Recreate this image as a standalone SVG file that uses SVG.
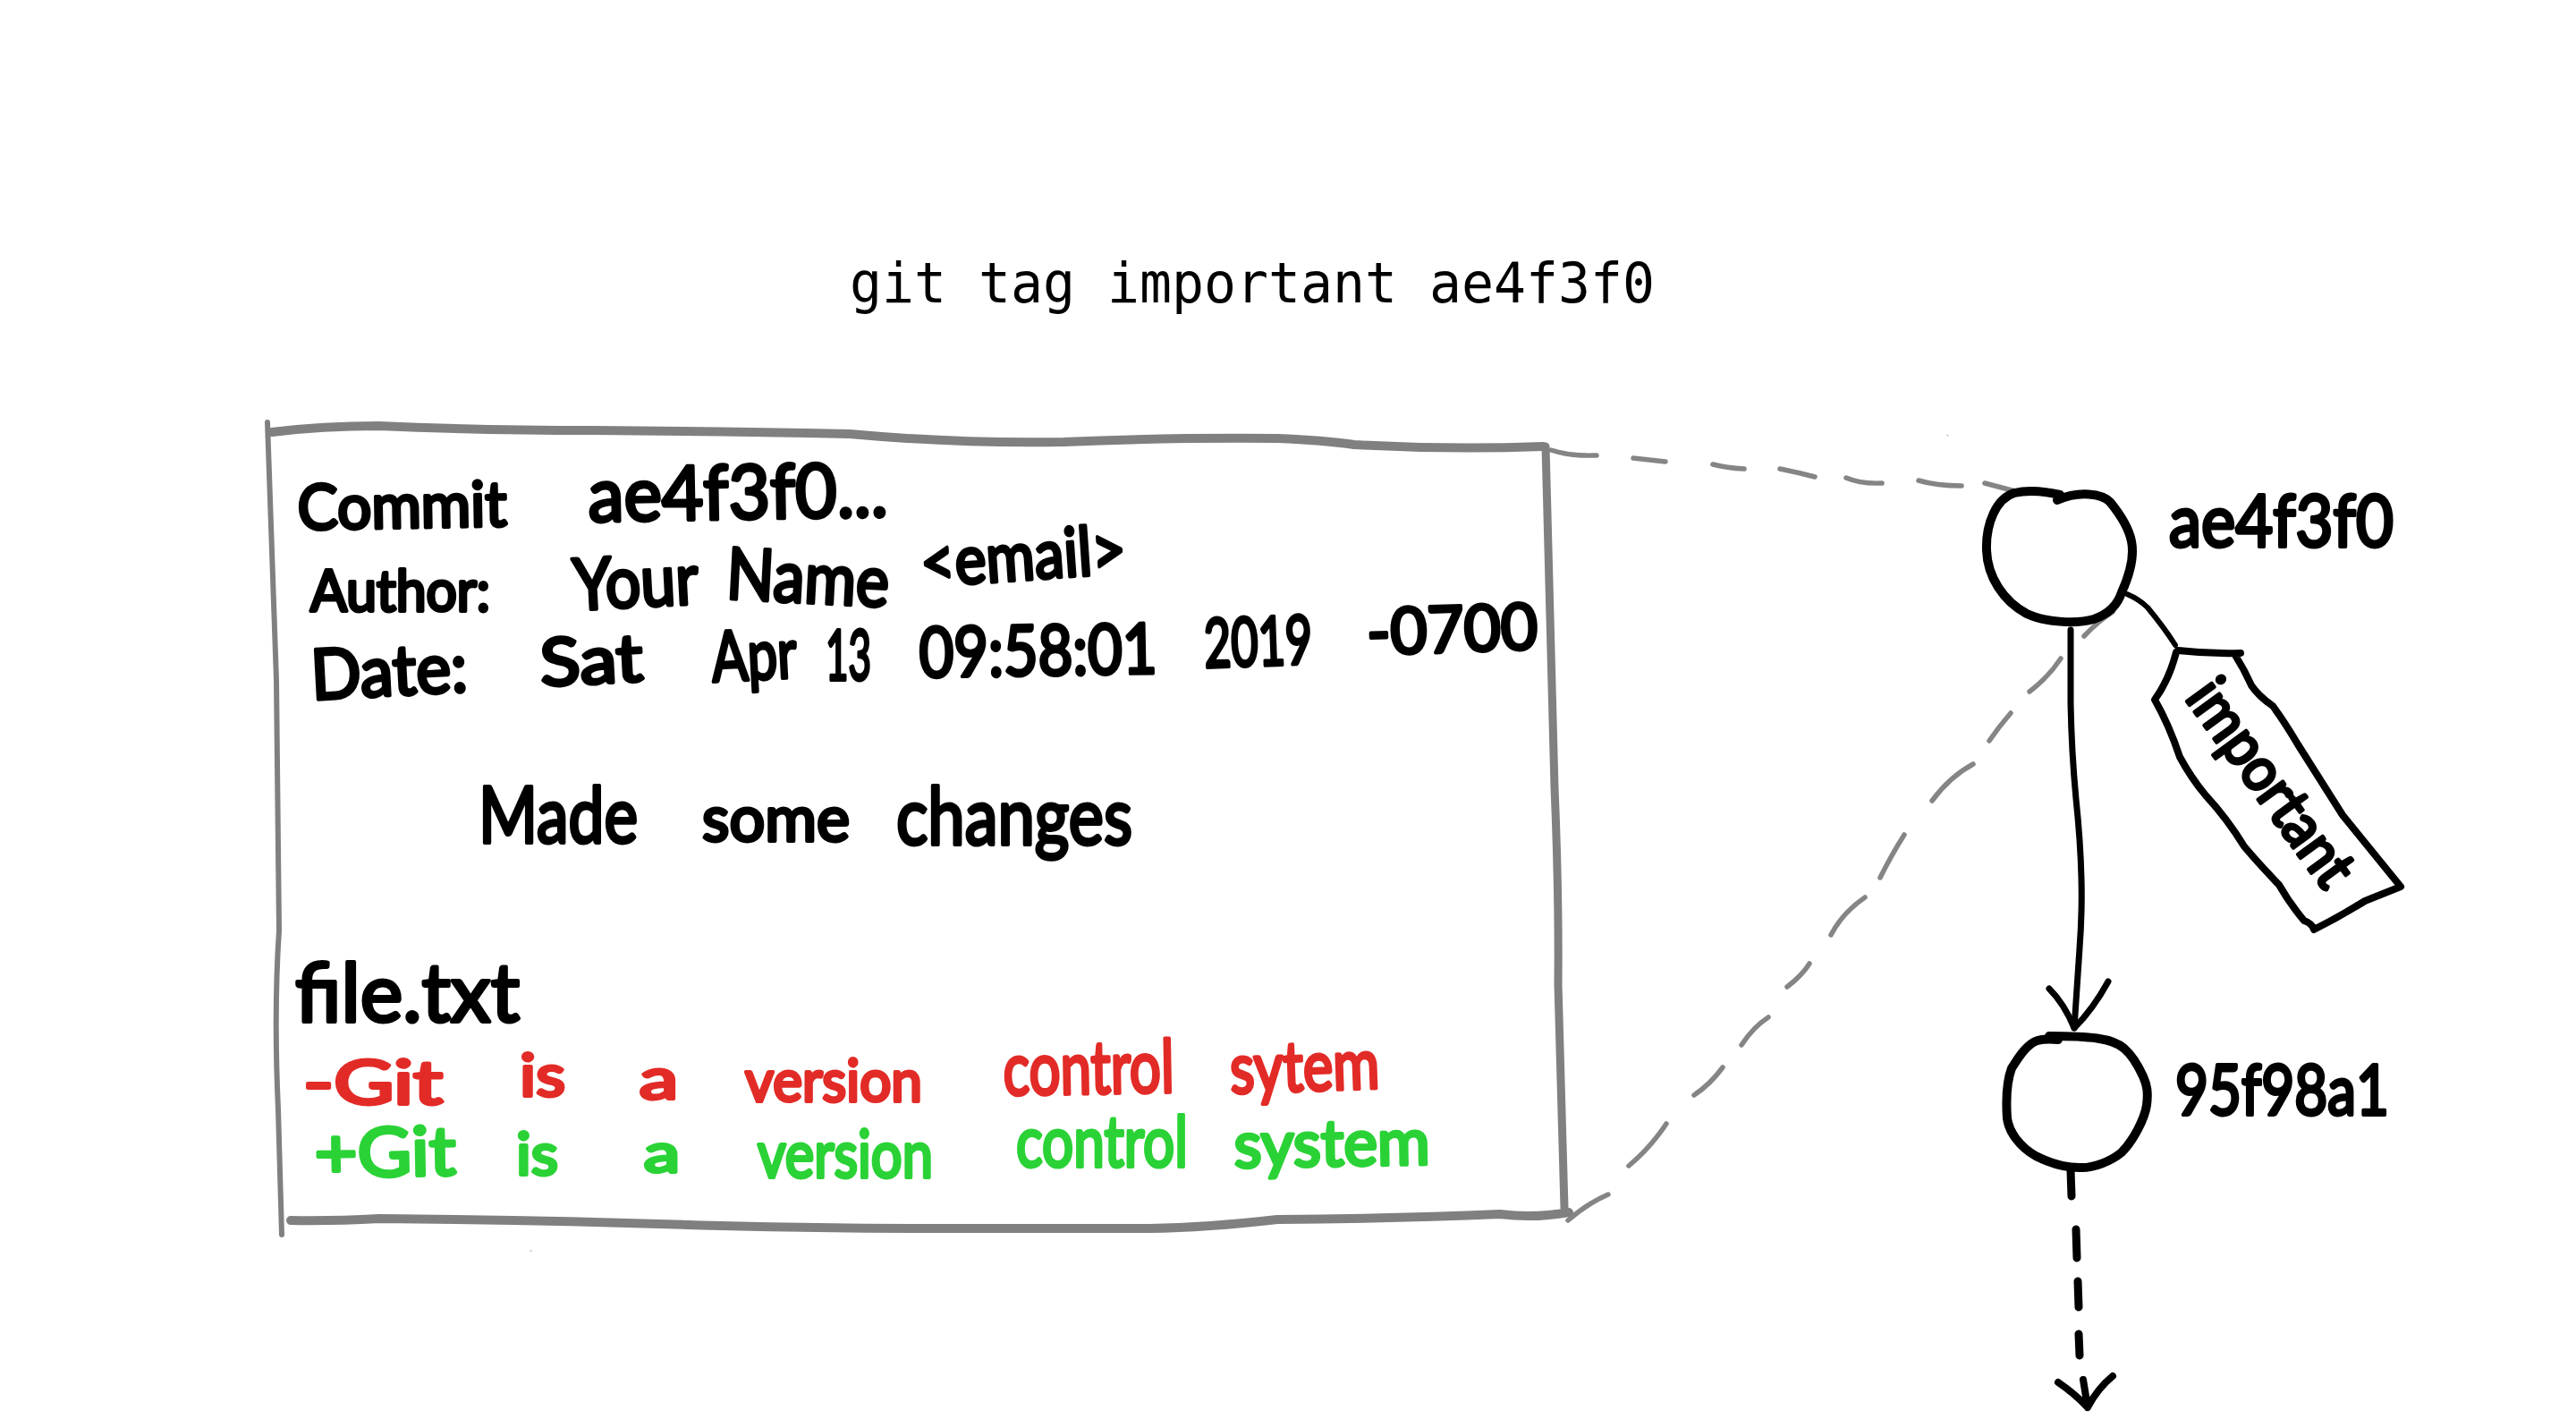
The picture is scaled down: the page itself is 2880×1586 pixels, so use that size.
<svg xmlns="http://www.w3.org/2000/svg" width="2880" height="1586" viewBox="0 0 2880 1586">
<style>
.bg{fill:#fff}
.ink{fill:none;stroke:#000;stroke-linecap:round;stroke-linejoin:round}
.box{fill:none;stroke:#808080;stroke-linecap:round;stroke-linejoin:round}
.dash{fill:none;stroke:#858585;stroke-width:5.5;stroke-linecap:round}
.cmd{font-family:"DejaVu Sans Mono","Liberation Mono",monospace;font-size:62px;fill:#000}
.h{font-family:"Lato","Noto Sans",sans-serif;font-weight:400;stroke-linejoin:round;stroke-linecap:round;stroke-width:4}
.k{fill:#000;stroke:#000}
.r{fill:#e22b27;stroke:#e22b27}
.g{fill:#2ad236;stroke:#2ad236}
</style>
<rect class="bg" width="2880" height="1586"/>
<text class="cmd" x="950" y="338" textLength="900" lengthAdjust="spacingAndGlyphs">git tag important ae4f3f0</text>
<g id="connectors">
<g class="dash">
<path d="M1734 503Q1755 510 1785 509"/><path d="M1826 512L1862 516"/><path d="M1915 519Q1930 523 1950 524"/><path d="M1990 524Q2010 528 2029 533"/><path d="M2064 534Q2080 541 2104 540"/><path d="M2145 537Q2165 543 2193 543"/><path d="M2219 540L2253 549"/>
<path d="M2362 684Q2345 695 2330 711"/><path d="M2304 736Q2290 757 2269 773"/><path d="M2248 797Q2235 812 2224 828"/><path d="M2206 854Q2180 868 2160 895"/><path d="M2129 933Q2115 955 2102 981"/><path d="M2085 1003Q2060 1020 2047 1045"/><path d="M2023 1077Q2015 1090 1998 1103"/><path d="M1977 1137Q1960 1148 1947 1168"/><path d="M1926 1193Q1912 1212 1894 1224"/><path d="M1863 1256Q1845 1283 1821 1303"/><path d="M1798 1335Q1775 1345 1753 1364"/>
<path d="M2177 486L2178 487" stroke-width="1"/><path d="M593 1398L594 1398" stroke-width="1"/>
</g>
<path class="ink" stroke-width="7" d="M2315 704L2315 786Q2316 840 2321 893Q2326 940 2327 982Q2328 1020 2325 1060L2319 1149"/>
<path class="ink" stroke-width="7" d="M2291 1105Q2308 1122 2319 1149Q2340 1128 2357 1097"/>
<path class="ink" stroke-width="9" d="M2315 1308L2316 1337"/>
<path class="ink" stroke-width="9" d="M2321 1374L2322 1406"/>
<path class="ink" stroke-width="9" d="M2323 1432L2324 1461"/>
<path class="ink" stroke-width="9" d="M2324 1491L2325 1515"/>
<path class="ink" stroke-width="8" d="M2301 1545Q2320 1558 2334 1573Q2345 1552 2362 1538M2329 1542L2334 1573"/>
<path class="ink" stroke-width="6" d="M2378 664Q2392 670 2401 679Q2420 702 2432 721"/>
</g>
<g id="commit-detail">
<path class="box" stroke-width="10" d="M304 483Q360 476 424 476Q540 481 663 481Q800 482 950 485Q1070 496 1189 494Q1300 489 1428 490Q1480 492 1514 497Q1620 503 1725 499"/>
<path class="box" stroke-width="6" d="M299 472Q303 600 309 760Q311 900 312 1040Q306 1130 311 1240L315 1380"/>
<path class="box" stroke-width="9" d="M1728 499Q1733 700 1738 880Q1743 1000 1742 1100L1749 1350"/>
<path class="box" stroke-width="10" d="M325 1364Q370 1365 424 1362Q620 1364 806 1370Q930 1373 1046 1373L1285 1373Q1350 1372 1428 1363Q1560 1362 1677 1357Q1715 1362 1754 1355"/>
<g id="detail-text">
<text class="h k" font-size="70" x="333" y="592" textLength="234" lengthAdjust="spacingAndGlyphs" transform="rotate(-1 333 592)">Commit</text>
<text class="h k" font-size="84" x="658" y="583" textLength="335" lengthAdjust="spacingAndGlyphs" transform="rotate(-1 658 583)">ae4f3f0...</text>
<text class="h k" font-size="64" x="347" y="683" textLength="201" lengthAdjust="spacingAndGlyphs">Author:</text>
<text class="h k" font-size="80" x="642" y="682" textLength="140" lengthAdjust="spacingAndGlyphs" transform="rotate(-3 642 682)">Your</text>
<text class="h k" font-size="80" x="811" y="669" textLength="182" lengthAdjust="spacingAndGlyphs" transform="rotate(3 811 669)">Name</text>
<text class="h k" font-size="76" x="1031" y="656" textLength="230" lengthAdjust="spacingAndGlyphs" transform="rotate(-4 1031 656)">&lt;email&gt;</text>
<text class="h k" font-size="78" x="349" y="782" textLength="175" lengthAdjust="spacingAndGlyphs" transform="rotate(-3 349 782)">Date:</text>
<text class="h k" font-size="74" x="605" y="767" textLength="115" lengthAdjust="spacingAndGlyphs" transform="rotate(-3 605 767)">Sat</text>
<text class="h k" font-size="78" x="797" y="762" textLength="95" lengthAdjust="spacingAndGlyphs" transform="rotate(-3 797 762)">Apr</text>
<text class="h k" font-size="78" x="923" y="760" textLength="51" lengthAdjust="spacingAndGlyphs">13</text>
<text class="h k" font-size="78" x="1028" y="757" textLength="266" lengthAdjust="spacingAndGlyphs" transform="rotate(-1 1028 757)">09:58:01</text>
<text class="h k" font-size="76" x="1347" y="746" textLength="121" lengthAdjust="spacingAndGlyphs" transform="rotate(-2 1347 746)">2019</text>
<text class="h k" font-size="72" x="1529" y="732" textLength="191" lengthAdjust="spacingAndGlyphs" transform="rotate(-2 1529 732)">-0700</text>
<text class="h k" font-size="88" x="535" y="942" textLength="178" lengthAdjust="spacingAndGlyphs">Made</text>
<text class="h k" font-size="72" x="785" y="940" textLength="165" lengthAdjust="spacingAndGlyphs">some</text>
<text class="h k" font-size="90" x="1002" y="944" textLength="264" lengthAdjust="spacingAndGlyphs">changes</text>
<text class="h k" font-size="92" x="330" y="1142" textLength="251" lengthAdjust="spacingAndGlyphs">file.txt</text>
<text class="h r" font-size="68" x="339" y="1234" textLength="156" lengthAdjust="spacingAndGlyphs">-Git</text>
<text class="h r" font-size="66" x="581" y="1225" textLength="51" lengthAdjust="spacingAndGlyphs">is</text>
<text class="h r" font-size="62" x="715" y="1228" textLength="43" lengthAdjust="spacingAndGlyphs">a</text>
<text class="h r" font-size="66" x="833" y="1231" textLength="198" lengthAdjust="spacingAndGlyphs">version</text>
<text class="h r" font-size="82" x="1122" y="1224" textLength="191" lengthAdjust="spacingAndGlyphs" transform="rotate(-1 1122 1224)">control</text>
<text class="h r" font-size="78" x="1376" y="1222" textLength="167" lengthAdjust="spacingAndGlyphs" transform="rotate(-2 1376 1222)">sytem</text>
<text class="h g" font-size="76" x="352" y="1316" textLength="158" lengthAdjust="spacingAndGlyphs" transform="rotate(-1 352 1316)">+Git</text>
<text class="h g" font-size="66" x="577" y="1313" textLength="47" lengthAdjust="spacingAndGlyphs">is</text>
<text class="h g" font-size="60" x="720" y="1310" textLength="40" lengthAdjust="spacingAndGlyphs">a</text>
<text class="h g" font-size="74" x="847" y="1316" textLength="196" lengthAdjust="spacingAndGlyphs">version</text>
<text class="h g" font-size="80" x="1136" y="1304" textLength="192" lengthAdjust="spacingAndGlyphs">control</text>
<text class="h g" font-size="72" x="1380" y="1305" textLength="219" lengthAdjust="spacingAndGlyphs" transform="rotate(-1 1380 1305)">system</text>
</g>
</g>
<g id="commit-ae4f3f0">
<path class="ink" stroke-width="10" d="M2303 553C2285 549 2265 548 2252 551C2232 557 2220 585 2221 615C2222 645 2240 672 2266 686C2285 695 2320 698 2341 692C2358 686 2368 675 2372 662C2382 640 2386 620 2383 605C2380 590 2368 572 2359 561C2350 552 2325 548 2300 559"/>
<text class="h k" font-size="82" x="2425" y="611" textLength="251" lengthAdjust="spacingAndGlyphs">ae4f3f0</text>
</g>
<g id="commit-95f98a1">
<path class="ink" stroke-width="10" d="M2301 1162C2292 1161 2285 1161 2278 1163C2265 1167 2255 1185 2249 1194C2243 1210 2243 1235 2244 1250C2246 1265 2258 1282 2276 1292C2290 1299 2305 1305 2325 1305C2340 1306 2360 1298 2372 1288C2385 1275 2398 1250 2400 1235C2402 1220 2400 1212 2396 1203C2390 1190 2382 1178 2375 1172C2362 1160 2335 1158 2291 1158"/>
<text class="h k" font-size="78" x="2432" y="1246" textLength="239" lengthAdjust="spacingAndGlyphs">95f98a1</text>
</g>
<g id="tag-important">
<path class="ink" stroke-width="8" d="M2435 727Q2470 731 2505 730M2500 734Q2510 750 2517 766Q2525 778 2541 789Q2555 808 2569 832L2619 911L2684 991L2644 1007Q2615 1025 2587 1039Q2585 1032 2576 1029Q2560 1010 2548 989Q2525 965 2509 946Q2490 915 2466 889Q2450 870 2437 846Q2425 810 2409 782Q2425 760 2433 729"/>
<text class="h k" font-size="68" x="2442" y="780" textLength="268" lengthAdjust="spacingAndGlyphs" transform="rotate(54 2442 780)">important</text>
</g>
</svg>
